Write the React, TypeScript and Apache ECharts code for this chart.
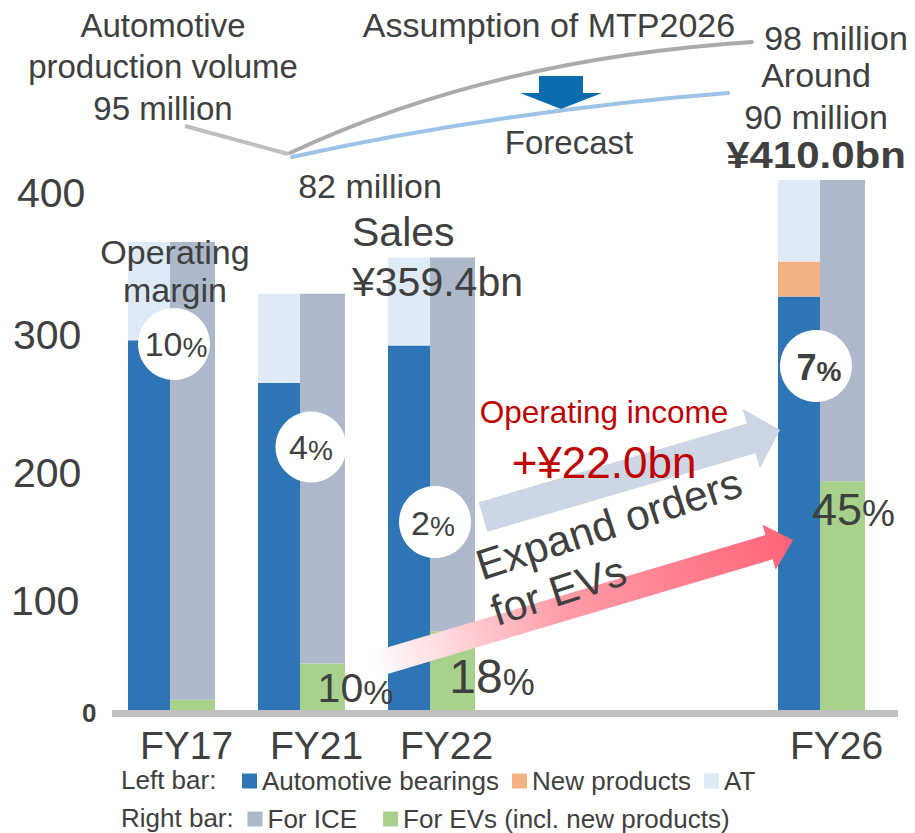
import React, { useEffect, useRef } from 'react';
import * as echarts from 'echarts';

const categories = ['FY17', 'FY21', 'FY22', '', '', 'FY26'];
const automotiveBearings = [286, 253, 282, null, null, 320];
const newProducts = [0, 0, 0, null, null, 27];
const atValues = [76, 69, 68, null, null, 63];
const forEVs = [8, 36, 61, null, null, 177];
const forICE = [354, 286, 289, null, null, 233];
const yTickValues = [0, 100, 200, 300, 400];
const operatingMargins = ['10', '4', '2', '7'];
const evShares = ['10', '18', '45'];

const FONT = "'Liberation Sans', Arial, Helvetica, sans-serif";
const TXT = '#404040';

function arrowPoints(tail: number[], tip: number[], shaftHalf: number, headHalf: number, headLen: number) {
  const dx = tip[0] - tail[0];
  const dy = tip[1] - tail[1];
  const L = Math.hypot(dx, dy);
  const ux = dx / L, uy = dy / L;
  const nx = -uy, ny = ux;
  const bx = tip[0] - ux * headLen, by = tip[1] - uy * headLen;
  return [
    [tail[0] + nx * shaftHalf, tail[1] + ny * shaftHalf],
    [bx + nx * shaftHalf, by + ny * shaftHalf],
    [bx + nx * headHalf, by + ny * headHalf],
    [tip[0], tip[1]],
    [bx - nx * headHalf, by - ny * headHalf],
    [bx - nx * shaftHalf, by - ny * shaftHalf],
    [tail[0] - nx * shaftHalf, tail[1] - ny * shaftHalf],
  ];
}

function txt(x: number, y: number, text: string, fontSize: number, o: any = {}) {
  return {
    type: 'text',
    x,
    y,
    z: 100,
    rotation: o.rotation || 0,
    scaleY: o.scaleY || 1,
    style: {
      text,
      fontSize,
      fontFamily: FONT,
      fontWeight: o.weight || 'normal',
      fill: o.fill || TXT,
      textAlign: o.align || 'center',
      textVerticalAlign: o.valign || 'middle',
      lineHeight: o.lineHeight || fontSize * 1.2,
      rich: o.rich,
    },
  };
}

function pct(x: number, y: number, num: string, a: number, b: number, weight = 'normal') {
  return txt(x, y, `{a|${num}}{b|%}`, a, {
    rich: {
      a: { fontSize: a, fontFamily: FONT, fill: TXT, fontWeight: weight, verticalAlign: 'bottom', lineHeight: a },
      b: { fontSize: b, fontFamily: FONT, fill: TXT, fontWeight: weight, verticalAlign: 'bottom', lineHeight: b + 2 },
    },
    weight,
  });
}

const yShift: Record<number, number[]> = {
  0: [5, 71],
  100: [41, 0],
  200: [43, 2],
  300: [26, 2],
  400: [0, 6],
};

export default function App() {
  const ref = useRef<HTMLDivElement>(null);
  useEffect(() => {
    document.body.style.margin = '0';
    if (!ref.current) return;
    const chart = echarts.init(ref.current, undefined, { renderer: 'svg' });

    const rich: any = {};
    yTickValues.forEach((v) => {
      const [pt, pl] = yShift[v];
      rich['t' + v] = {
        fontSize: v === 0 ? 26 : 41,
        fontWeight: v === 0 ? 'bold' : 'normal',
        fontFamily: FONT,
        color: TXT,
        padding: [pt, 0, 0, pl],
      };
    });

    const grayArrow = arrowPoints([483, 517], [780, 430], 15.5, 31, 30);
    const pinkArrow = arrowPoints([373, 665], [793, 540], 12.7, 23.5, 25);
    const rot = (18 * Math.PI) / 180;

    const graphics: any[] = [
      { type: 'rect', z: 1, shape: { x: 112, y: 710, width: 786, height: 7 }, style: { fill: '#BFBFBF' } },
      // production volume lines
      { type: 'line', z: 90, shape: { x1: 185, y1: 126, x2: 288, y2: 154 }, style: { stroke: '#BFBFBF', lineWidth: 4 } },
      {
        type: 'bezierCurve', z: 90,
        shape: { x1: 290, y1: 153, cpx1: 441, cpy1: 82, cpx2: 600, cpy2: 52, x2: 752, y2: 42 },
        style: { stroke: '#AEAAAA', lineWidth: 4, fill: 'none', lineCap: 'round' },
      },
      {
        type: 'bezierCurve', z: 90,
        shape: { x1: 292, y1: 157, cpx1: 432, cpy1: 126, cpx2: 588, cpy2: 104, x2: 728, y2: 93 },
        style: { stroke: '#9DC3E6', lineWidth: 4, fill: 'none', lineCap: 'round' },
      },
      {
        type: 'polygon', z: 91,
        shape: { points: [[539, 76], [583, 76], [583, 93], [602, 93], [561, 109], [520, 93], [539, 93]] },
        style: { fill: '#0B6CAD' },
      },
      txt(163, 66.5, 'Automotive\nproduction volume\n95 million', 33, { lineHeight: 41.5 }),
      txt(549, 25, 'Assumption of MTP2026', 34),
      txt(836, 38, '98 million', 34),
      txt(816, 96, 'Around\n90 million', 34, { lineHeight: 42 }),
      txt(569, 142, 'Forecast', 33),
      txt(370, 186, '82 million', 34),
      txt(816, 155, '¥410.0bn', 42, { weight: 'bold', scaleY: 0.88 }),
      txt(175, 271, 'Operating\nmargin', 34, { lineHeight: 38 }),
      txt(352, 257, 'Sales\n¥359.4bn', 41, { align: 'left', lineHeight: 50 }),
      // arrows
      { type: 'polygon', z: 95, shape: { points: grayArrow }, style: { fill: '#CDD6E5' } },
      {
        type: 'polygon', z: 95, shape: { points: pinkArrow },
        style: {
          fill: new echarts.graphic.LinearGradient(373, 665, 793, 540, [
            { offset: 0, color: '#FFFFFF' },
            { offset: 0.45, color: '#FF9DA8' },
            { offset: 1, color: '#FF6479' },
          ], true),
        },
      },
      txt(604, 412, 'Operating income', 31.5, { fill: '#C00000' }),
      txt(604, 462, '+¥22.0bn', 44, { fill: '#C00000' }),
      txt(470, 544, 'Expand orders\nfor EVs', 42.5, { align: 'left', valign: 'top', lineHeight: 48, rotation: rot }),
      // margin circles
      { type: 'circle', z: 98, shape: { cx: 174, cy: 344, r: 36 }, style: { fill: '#FFFFFF' } },
      { type: 'circle', z: 98, shape: { cx: 311, cy: 447, r: 35.5 }, style: { fill: '#FFFFFF' } },
      { type: 'circle', z: 98, shape: { cx: 435, cy: 522, r: 36 }, style: { fill: '#FFFFFF' } },
      { type: 'circle', z: 98, shape: { cx: 816, cy: 366, r: 36 }, style: { fill: '#FFFFFF' } },
      pct(176, 344, operatingMargins[0], 34, 28),
      pct(311, 447, operatingMargins[1], 34, 28),
      pct(433, 523, operatingMargins[2], 34, 28),
      pct(819, 367, operatingMargins[3], 36, 28, 'bold'),
      pct(355.5, 688, evShares[0], 41, 34),
      pct(492, 676, evShares[1], 48, 36),
      pct(853.5, 509, evShares[2], 45, 37),
      // legend row captions
      txt(121, 780, 'Left bar:', 26, { align: 'left', lineHeight: 26 }),
      txt(121, 818, 'Right bar:', 26, { align: 'left', lineHeight: 26 }),
    ];

    const option: any = {
      animation: false,
      textStyle: { fontFamily: FONT },
      grid: { left: 106.5, right: 28.5, top: 710 - 450 * 1.2925, bottom: 833 - 710 },
      xAxis: {
        type: 'category',
        data: categories,
        axisLine: { show: false },
        axisTick: { show: false },
        axisLabel: {
          fontSize: 39,
          color: TXT,
          fontFamily: FONT,
          margin: 18,
          lineHeight: 34,
          padding: [0, 0, 0, 30],
          interval: 0,
        },
      },
      yAxis: {
        type: 'value',
        min: 0,
        max: 450,
        interval: 100,
        axisLine: { show: false },
        axisTick: { show: false },
        splitLine: { show: false },
        axisLabel: {
          margin: 95.5,
          align: 'left',
          color: TXT,
          fontFamily: FONT,
          formatter: (v: number) => (v % 100 === 0 && v <= 400 ? `{t${v}|${v}}` : ''),
          rich,
        },
      },
      legend: [
        {
          data: ['Automotive bearings', 'New products', 'AT'],
          left: 242,
          top: 768,
          padding: 0,
          itemGap: 13,
          itemWidth: 15,
          itemHeight: 15,
          icon: 'rect',
          selectedMode: false,
          textStyle: { fontSize: 26, color: TXT, fontFamily: FONT, lineHeight: 24 },
        },
        {
          data: ['For ICE', 'For EVs (incl. new products)'],
          left: 247.5,
          top: 806,
          padding: 0,
          itemGap: 26,
          itemWidth: 15,
          itemHeight: 15,
          icon: 'rect',
          selectedMode: false,
          textStyle: { fontSize: 26, color: TXT, fontFamily: FONT, lineHeight: 24 },
        },
      ],
      series: [
        { name: 'Automotive bearings', type: 'bar', stack: 'L', barWidth: 42, data: automotiveBearings, itemStyle: { color: '#2E75B6' } },
        { name: 'New products', type: 'bar', stack: 'L', barWidth: 42, data: newProducts, itemStyle: { color: '#F4B183' } },
        { name: 'AT', type: 'bar', stack: 'L', barWidth: 42, data: atValues, itemStyle: { color: '#DEEBF7' } },
        { name: 'For EVs (incl. new products)', type: 'bar', stack: 'R', barWidth: 45, barGap: 0, data: forEVs, itemStyle: { color: '#A9D18E' } },
        { name: 'For ICE', type: 'bar', stack: 'R', barWidth: 45, barGap: 0, data: forICE, itemStyle: { color: '#ADB9CA' } },
      ].map((s) => ({ ...s, emphasis: { disabled: true } })),
      graphic: graphics,
    };
    chart.setOption(option);
    return () => chart.dispose();
  }, []);
  return <div ref={ref} style={{ width: 915, height: 833 }} />;
}
